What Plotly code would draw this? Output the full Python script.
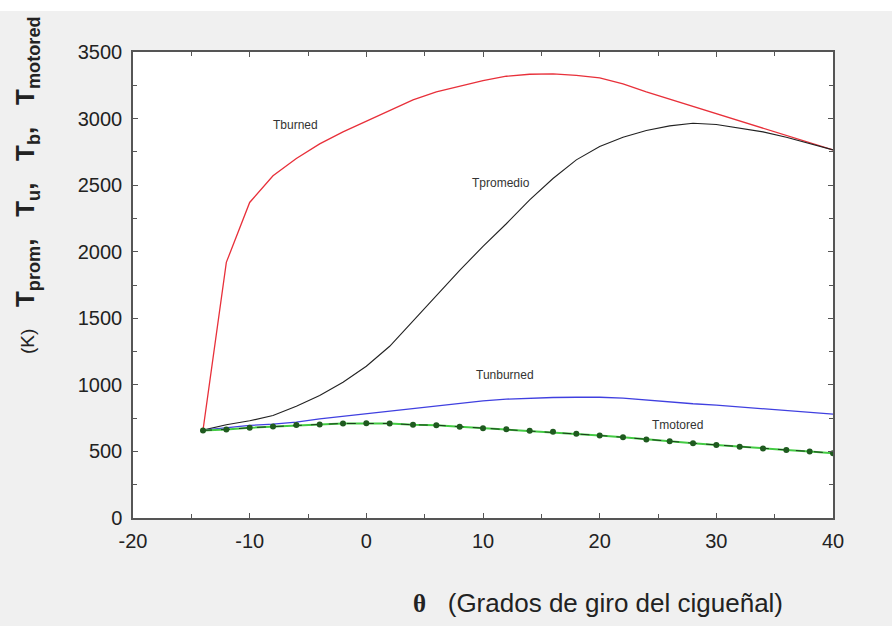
import plotly.graph_objects as go

theta = [-14, -12, -10, -8, -6, -4, -2, 0, 2, 4, 6, 8, 10, 12, 14, 16, 18, 20,
         22, 24, 26, 28, 30, 32, 34, 36, 38, 40]
t_burned = [660, 1920, 2370, 2570, 2700, 2810, 2900, 2980, 3060, 3140, 3200, 3245,
            3285, 3318, 3333, 3336, 3325, 3305, 3260, 3200, 3145, 3090, 3040, 2985,
            2930, 2870, 2815, 2765]
t_promedio = [660, 700, 730, 770, 840, 920, 1020, 1140, 1290, 1480, 1670, 1860,
              2040, 2210, 2390, 2550, 2690, 2790, 2860, 2910, 2945, 2965, 2955, 2930,
              2900, 2860, 2810, 2765]
t_unburned = [660, 680, 695, 705, 720, 745, 765, 780, 800, 825, 845, 865, 880, 893,
              900, 905, 907, 907, 900, 885, 868, 858, 848, 835, 820, 805, 795, 780]
t_motored = [658, 665, 678, 688, 698, 703, 710, 712, 710, 700, 697, 686, 675, 666,
             656, 647, 633, 620, 606, 590, 577, 562, 549, 535, 522, 511, 500, 487]

x_tickvals = [-20, -10, 0, 10, 20, 30, 40]
x_ticktext = ["-20", "-10", "0", "10", "20", "30", "40"]

labels = ["Tburned", "Tpromedio", "Tunburned", "Tmotored"]
label_x = [-6.1, 11.5, 11.9, 26.7]
label_y = [2953, 2517, 1074, 699]

fig = go.Figure()
fig.add_trace(go.Scatter(x=theta, y=t_burned, mode="lines",
                         line=dict(color="#e8303a", width=1.3), showlegend=False))
fig.add_trace(go.Scatter(x=theta, y=t_promedio, mode="lines",
                         line=dict(color="#222222", width=1.1), showlegend=False))
fig.add_trace(go.Scatter(x=theta, y=t_unburned, mode="lines",
                         line=dict(color="#4040e0", width=1.3), showlegend=False))
fig.add_trace(go.Scatter(x=theta, y=t_motored, mode="lines",
                         line=dict(color="#44cc44", width=2), showlegend=False))
fig.add_trace(go.Scatter(x=theta, y=t_motored, mode="lines+markers",
                         line=dict(color="#1a3a1a", width=1, dash="dash"),
                         marker=dict(color="#1f5a1f", size=6, symbol="circle"),
                         showlegend=False))

for txt, lx, ly in zip(labels, label_x, label_y):
    fig.add_annotation(x=lx, y=ly, text=txt, showarrow=False,
                       font=dict(family="Arial, Liberation Sans", size=12, color="#333333"))

sp = "&nbsp;&nbsp;&nbsp;"
ytitle = ("<span style='font-size:19px;font-weight:normal'>(K)</span>" + "&nbsp;&nbsp;&nbsp;"
          + "<b>T<sub>prom</sub>,</b>" + sp + "<b>T<sub>u</sub>,</b>" + sp
          + "<b>T<sub>b</sub>,</b>" + sp + "<b>T<sub>motored</sub></b>")
fig.add_annotation(xref="paper", yref="paper", x=-0.151, y=0.715, xanchor="center", yanchor="middle",
                   textangle=-90, showarrow=False, text=ytitle,
                   font=dict(family="Arial, Liberation Sans", size=26, color="#222222"))
fig.add_annotation(xref="paper", yref="paper", x=0.397, y=-0.183, xanchor="left", yanchor="middle",
                   showarrow=False,
                   text="<b><span style='font-family:Liberation Serif;font-size:25px'>θ</span></b>&nbsp;&nbsp;&nbsp;(Grados de giro del cigueñal)",
                   font=dict(family="Arial, Liberation Sans", size=26, color="#222222"))

axis_common = dict(showgrid=False, zeroline=False, showline=True, linecolor="#555555",
                   linewidth=1.5, mirror="ticks", ticks="inside", ticklen=5,
                   tickcolor="#555555", tickwidth=1,
                   tickfont=dict(family="Arial, Liberation Sans", size=20, color="#222222"))

fig.update_xaxes(range=[-20, 40], tickvals=x_tickvals, ticktext=x_ticktext,
                 ticklabelstandoff=4,
                 minor=dict(dtick=5, ticks="inside", ticklen=4, tickcolor="#555555"),
                 **axis_common)
fig.update_yaxes(range=[0, 3500], dtick=500, ticklabelstandoff=5,
                 minor=dict(dtick=250, ticks="inside", ticklen=4, tickcolor="#555555"),
                 **axis_common)

fig.add_shape(type="rect", xref="paper", yref="paper", x0=-0.2, x1=1.1, y0=1.088, y1=1.12,
              fillcolor="#ffffff", line=dict(width=0), layer="below")

fig.update_layout(width=892, height=626,
                  margin=dict(l=133, r=59, t=52, b=108),
                  paper_bgcolor="#f0f0f0", plot_bgcolor="#ffffff")

fig.write_html("out.html")
